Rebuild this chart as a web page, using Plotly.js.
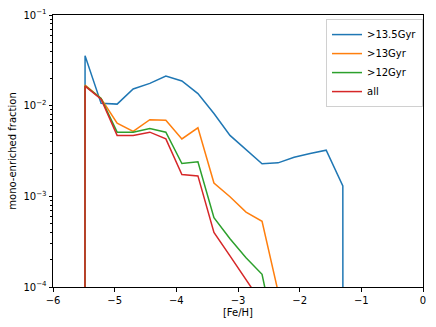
<!DOCTYPE html>
<html>
<head>
<meta charset="utf-8">
<script src="https://cdn.plot.ly/plotly-3.0.1.min.js"></script>
<style>
  body { margin: 0; padding: 0; background: #fff; }
  #plot { width: 436px; height: 327px; }
</style>
</head>
<body>
<div id="plot"></div>
<script>
  // bin centres in [Fe/H]
  var feh = [-5.74, -5.48, -5.22, -4.96, -4.70, -4.43, -4.17, -3.91, -3.65, -3.39,
             -3.13, -2.87, -2.61, -2.35, -2.09, -1.83, -1.57, -1.30, -1.04];

  // mono-enriched fraction per age cut
  var old135 = [0, 0.0356, 0.0106, 0.0104, 0.0153, 0.0176, 0.0212, 0.0187, 0.0136, 0.0082,
                0.0047, 0.0033, 0.00229, 0.00234, 0.0027, 0.00297, 0.00323, 0.0013, 0];
  var old13 = [0, 0.0169, 0.0120, 0.0064, 0.0052, 0.0070, 0.0069, 0.0043, 0.0057, 0.0014,
               0.00099, 0.00067, 0.00053, 0.000089, 0, 0, 0, 0, 0];
  var old12 = [0, 0.0165, 0.0120, 0.0051, 0.0051, 0.0056, 0.0051, 0.0023, 0.0024, 0.00058,
               0.00034, 0.00021, 0.000138, 0.00002, 0, 0, 0, 0, 0];
  var allStars = [0, 0.0164, 0.0118, 0.0047, 0.0047, 0.0051, 0.0043, 0.00174, 0.00168, 0.00040,
                  0.00022, 0.00012, 0.000066, 0, 0, 0, 0, 0, 0];

  var names = [">13.5Gyr", ">13Gyr", ">12Gyr", "all"];
  var colors = ["#1f77b4", "#ff7f0e", "#2ca02c", "#d62728"];
  var series = [old135, old13, old12, allStars];

  // zeros can't go on a log axis, clip them way down like matplotlib does
  function clip(v) { return v > 0 ? v : 1e-300; }

  var data = series.map(function (s, i) {
    return {
      x: feh,
      y: s.map(clip),
      name: names[i],
      type: "scatter",
      mode: "lines",
      line: { color: colors[i], width: 1.5 }
    };
  });

  // invisible trace so the minor-tick axis gets drawn
  data.push({ x: [-6], y: [1e-3], yaxis: "y2", mode: "markers",
              marker: { opacity: 0 }, showlegend: false, hoverinfo: "skip" });

  // minor ticks at 2..9 of each decade
  var minorVals = [];
  [1e-4, 1e-3, 1e-2].forEach(function (d) {
    for (var k = 2; k <= 9; k++) minorVals.push(k * d);
  });

  var layout = {
    width: 436,
    height: 327,
    margin: { l: 53, r: 13, t: 15, b: 40 },
    paper_bgcolor: "#fff",
    plot_bgcolor: "#fff",
    font: { family: "DejaVu Sans", size: 10, color: "#000" },
    showlegend: true,
    legend: {
      x: 1.0, xanchor: "right",
      y: 0.985, yanchor: "top",
      bgcolor: "rgba(255,255,255,0.8)",
      bordercolor: "#d0d0d0",
      borderwidth: 1,
      font: { size: 10 },
      itemwidth: 30,
      tracegroupgap: 0
    },
    xaxis: {
      title: { text: "[Fe/H]", font: { size: 10 }, standoff: 4 },
      range: [-6, 0],
      tickvals: [-6, -5, -4, -3, -2, -1, 0],
      ticks: "outside", ticklen: 3.5, tickcolor: "#000",
      showgrid: false, zeroline: false,
      showline: true, linecolor: "#000", linewidth: 1, mirror: true
    },
    yaxis: {
      title: { text: "mono-enriched fraction", font: { size: 10 }, standoff: 4 },
      type: "log",
      range: [-4, -1],
      tickvals: [1e-4, 1e-3, 1e-2, 1e-1],
      ticktext: ["10<sup>\u22124</sup>", "10<sup>\u22123</sup>", "10<sup>\u22122</sup>", "10<sup>\u22121</sup>"],
      ticks: "outside", ticklen: 3.5, tickcolor: "#000",
      showgrid: false, zeroline: false,
      showline: true, linecolor: "#000", linewidth: 1, mirror: true
    },
    yaxis2: {
      type: "log",
      range: [-4, -1],
      overlaying: "y",
      side: "left",
      tickvals: minorVals,
      showticklabels: false,
      ticks: "outside", ticklen: 2, tickcolor: "#000",
      showgrid: false, zeroline: false, showline: false
    }
  };

  Plotly.newPlot("plot", data, layout, { displayModeBar: false, staticPlot: true });
</script>
</body>
</html>
